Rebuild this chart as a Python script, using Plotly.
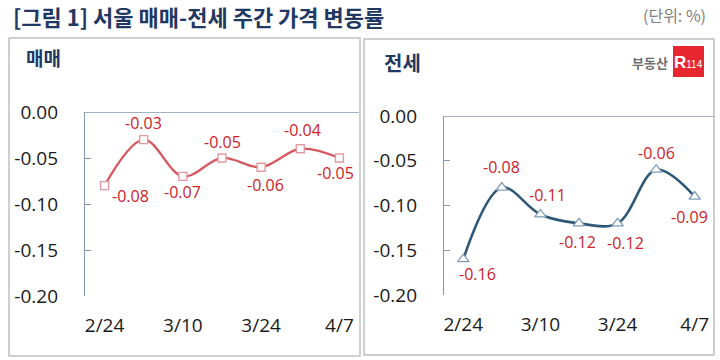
import plotly.graph_objects as go

# ---- data ----
dates = ["2/24", "3/3", "3/10", "3/17", "3/24", "3/31", "4/7"]
tick_dates = ["2/24", "3/10", "3/24", "4/7"]
sale = [-0.08, -0.03, -0.07, -0.05, -0.06, -0.04, -0.05]
jeonse = [-0.16, -0.08, -0.11, -0.12, -0.12, -0.06, -0.09]
y_ticks = [0.0, -0.05, -0.10, -0.15, -0.20]
y_tick_labels = [f"{v:.2f}" for v in y_ticks]

title_text = "[그림 1] 서울 매매-전세 주간 가격 변동률"
unit_text = "(단위: %)"
left_title = "매매"
right_title = "전세"

# label offsets (pixels) for data labels
sale_shift = [(26, -10), (0, 17), (0, -16), (0, 16), (4, -18), (2, 19), (-4, -15)]
jeonse_shift = [(14, -15), (0, 21), (7, 19), (-2, -19), (8, -20), (0, 17), (-5, -20)]

W, H = 720, 360
NUM_FONT = "Open Sans, Noto Sans, sans-serif"
KR_FONT = "Noto Sans CJK KR, sans-serif"
AXIS_COL = "#8497b0"
LABEL_RED = "#d0202a"

def px(x):
    return x / W

def py(y):
    return 1 - y / H

fig = go.Figure()

fig.add_trace(go.Scatter(
    x=dates, y=sale, mode="lines+markers",
    line=dict(color="#d45a60", width=2.4, shape="spline", smoothing=1.0),
    marker=dict(symbol="square", size=8, color="white",
                line=dict(color="#e39aa2", width=1.4)),
    xaxis="x", yaxis="y", hoverinfo="skip", showlegend=False))

fig.add_trace(go.Scatter(
    x=dates, y=jeonse, mode="lines+markers",
    line=dict(color="#2e5878", width=2.6, shape="spline", smoothing=1.0),
    marker=dict(symbol="triangle-up", size=10, color="white",
                line=dict(color="#7f9cba", width=1.3)),
    xaxis="x2", yaxis="y2", hoverinfo="skip", showlegend=False))

annotations = []
for d, v, (dx, dy) in zip(dates, sale, sale_shift):
    annotations.append(dict(x=d, y=v, xref="x", yref="y", text=f"{v:.2f}",
                            showarrow=False, xshift=dx, yshift=dy,
                            font=dict(family=NUM_FONT, size=16, color=LABEL_RED)))
for d, v, (dx, dy) in zip(dates, jeonse, jeonse_shift):
    annotations.append(dict(x=d, y=v, xref="x2", yref="y2", text=f"{v:.2f}",
                            showarrow=False, xshift=dx, yshift=dy,
                            font=dict(family=NUM_FONT, size=16, color=LABEL_RED)))

# titles and texts
annotations += [
    dict(x=px(11), y=py(16), xref="paper", yref="paper", text=f"<b>{title_text}</b>",
         showarrow=False, xanchor="left", yanchor="middle",
         font=dict(family=KR_FONT, size=22, color="#1f3864")),
    dict(x=px(708), y=py(15), xref="paper", yref="paper", text=unit_text,
         showarrow=False, xanchor="right", yanchor="middle",
         font=dict(family=KR_FONT, size=16, color="#808080")),
    dict(x=px(24), y=py(58), xref="paper", yref="paper", text=f"<b>{left_title}</b>",
         showarrow=False, xanchor="left", yanchor="middle",
         font=dict(family=KR_FONT, size=19, color="#1f3864")),
    dict(x=px(382), y=py(62), xref="paper", yref="paper", text=f"<b>{right_title}</b>",
         showarrow=False, xanchor="left", yanchor="middle",
         font=dict(family=KR_FONT, size=20, color="#1f3864")),
    dict(x=px(670), y=py(62), xref="paper", yref="paper", text="<b>부동산</b>",
         showarrow=False, xanchor="right", yanchor="middle",
         font=dict(family=KR_FONT, size=13, color="#6e6e6e")),
    dict(x=px(688.5), y=py(62), xref="paper", yref="paper",
         text="<b>R</b><span style='font-size:10px'>114</span>",
         showarrow=False, xanchor="center", yanchor="middle",
         font=dict(family="Liberation Sans, Arial, sans-serif", size=17, color="white")),
]

shapes = [
    # panel frames
    dict(type="rect", xref="paper", yref="paper", x0=px(9), x1=px(360), y0=py(356), y1=py(38),
         line=dict(color="#c0c0c0", width=1.5), layer="below"),
    dict(type="rect", xref="paper", yref="paper", x0=px(364), x1=px(714), y0=py(355), y1=py(39),
         line=dict(color="#c0c0c0", width=1.5), layer="below"),
    # category axis lines at zero level
    dict(type="line", xref="x domain", yref="y", x0=0, x1=1, y0=0, y1=0,
         line=dict(color=AXIS_COL, width=1.3)),
    dict(type="line", xref="x2 domain", yref="y2", x0=0, x1=1, y0=0, y1=0,
         line=dict(color=AXIS_COL, width=1.3)),
    # logo box
    dict(type="rect", xref="paper", yref="paper", x0=px(673), x1=px(704), y0=py(77), y1=py(46),
         fillcolor="#e8262f", line=dict(width=0)),
]

xaxis_common = dict(type="category", range=[-0.5, 6.5], showgrid=False, zeroline=False,
                    showline=False, tickvals=tick_dates, ticktext=tick_dates,
                    ticks="", ticklabelstandoff=16, automargin=False,
                    tickfont=dict(family=NUM_FONT, size=19, color="#1a1a1a"),
                    fixedrange=True)
yaxis_common = dict(range=[-0.2, 0.0], showgrid=False, zeroline=False,
                    showline=True, linecolor=AXIS_COL, linewidth=1.3,
                    ticks="inside", ticklen=6, tickcolor=AXIS_COL, tickwidth=1.2,
                    tickvals=y_ticks, ticktext=y_tick_labels, ticklabelstandoff=22,
                    automargin=False,
                    tickfont=dict(family=NUM_FONT, size=19, color="#1a1a1a"),
                    fixedrange=True)

fig.update_layout(
    width=W, height=H,
    margin=dict(l=0, r=0, t=0, b=0, pad=0, autoexpand=False),
    paper_bgcolor="white", plot_bgcolor="rgba(0,0,0,0)",
    xaxis=dict(domain=[px(85), px(359)], anchor="y", **xaxis_common),
    yaxis=dict(domain=[py(296), py(112)], anchor="x", **yaxis_common),
    xaxis2=dict(domain=[px(444), px(714)], anchor="y2", **xaxis_common),
    yaxis2=dict(domain=[py(295), py(116)], anchor="x2", **yaxis_common),
    annotations=annotations,
    shapes=shapes,
    showlegend=False,
)

fig.write_html("out.html", config={"displayModeBar": False})
